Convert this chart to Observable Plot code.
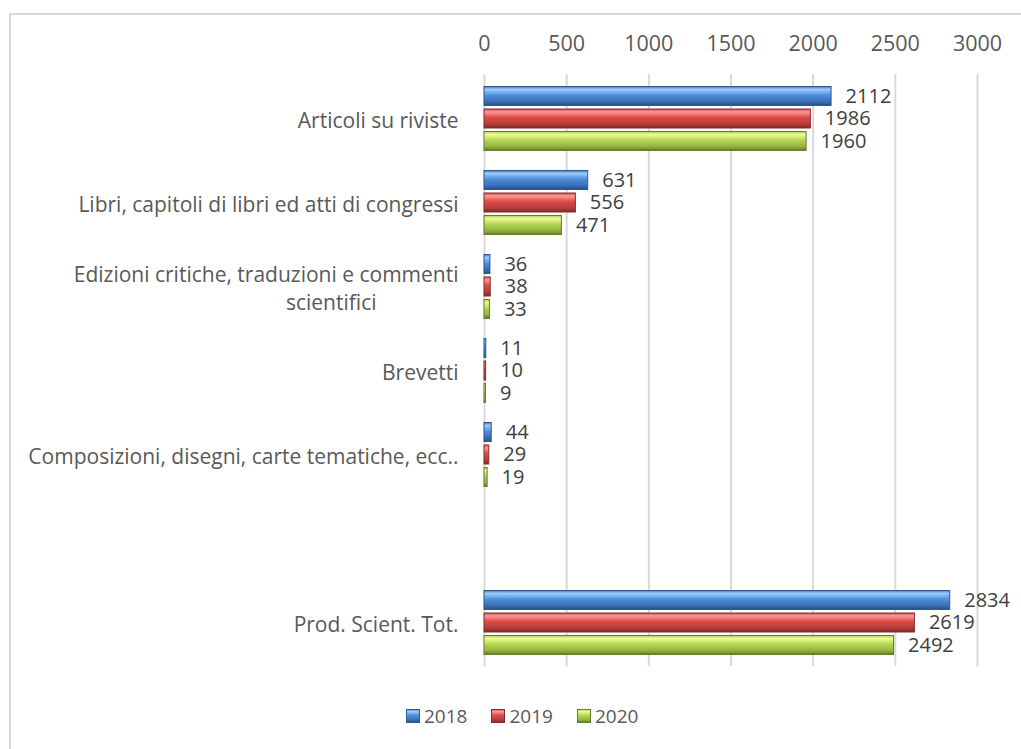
<!DOCTYPE html>
<html><head><meta charset="utf-8">
<script src="https://cdn.jsdelivr.net/npm/d3@7"></script>
<script src="https://cdn.jsdelivr.net/npm/@observablehq/plot@0.6"></script>
<style>
body{margin:0;background:#fff;font-family:"Open Sans",sans-serif;width:1021px;height:749px;overflow:hidden;position:relative}
#frame{position:absolute;left:9px;top:13px;width:1040px;height:780px;border:2px solid #d9d9d9;box-sizing:border-box}
#chart{position:absolute;left:0;top:0}
#legend{position:absolute;top:703px;left:406px;display:flex;align-items:center;font-size:19px;color:#595959}
#legend .item{display:flex;align-items:center;margin-right:24px}
</style></head>
<body>
<div id="frame"></div>
<div id="chart"></div>
<div id="legend"></div>
<script>
const categories = [
  "Articoli su riviste",
  "Libri, capitoli di libri ed atti di congressi",
  "Edizioni critiche, traduzioni e commenti scientifici",
  "Brevetti",
  "Composizioni, disegni, carte tematiche, ecc..",
  " ",
  "Prod. Scient. Tot."
];
const years = ["2018", "2019", "2020"];
const values2018 = [2112, 631, 36, 11, 44, null, 2834];
const values2019 = [1986, 556, 38, 10, 29, null, 2619];
const values2020 = [1960, 471, 33, 9, 19, null, 2492];
const xTicks = [0, 500, 1000, 1500, 2000, 2500, 3000];

const seriesValues = [values2018, values2019, values2020];
const seriesData = seriesValues.map((vals, s) =>
  categories.map((c, i) => ({category: c, value: vals[i], year: years[s]})).filter(d => d.value != null)
);
const gradIds = ["gBlue", "gRed", "gGreen"];
const strokes = ["#2d5a92", "#8a2c2a", "#627d2c"];
const offsets = [-22.5, 0, 22.5];

const labelFmt = c => c === "Edizioni critiche, traduzioni e commenti scientifici"
  ? "Edizioni critiche, traduzioni e commenti\nscientifici" : c;

const marks = [
  Plot.gridX(xTicks, {stroke: "#d9d9d9", strokeOpacity: 1, strokeWidth: 2}),
  Plot.axisX(xTicks, {anchor: "top", tickSize: 0, tickPadding: 24, label: null, fontSize: 21.5, fill: "#595959", tickFormat: d => String(d)}),
  Plot.axisY({tickSize: 0, tickPadding: 26, label: null, fontSize: 21, fill: "#595959", tickFormat: labelFmt, lineHeight: 1.35})
];
seriesData.forEach((data, s) => {
  marks.push(Plot.barX(data, {
    x: "value", y: "category", dy: offsets[s],
    fill: `url(#${gradIds[s]})`, stroke: strokes[s], strokeWidth: 1
  }));
  marks.push(Plot.text(data, {
    x: "value", y: "category", dy: offsets[s], dx: 14, text: d => String(d.value),
    textAnchor: "start", fontSize: 20, fill: "#404040"
  }));
});

const chart = Plot.plot({
  width: 1021,
  height: 690,
  marginLeft: 484,
  marginRight: 44,
  marginTop: 74,
  marginBottom: 24,
  style: {fontFamily: "'Open Sans', sans-serif", background: "transparent"},
  x: {domain: [0, 3000], axis: null},
  y: {domain: categories, padding: 0.775, paddingOuter: 0.4, align: 0.5, axis: null},
  marks
});

// gradients for bevelled bar look
const defs = `
<defs>
<linearGradient id="gBlue" x1="0" y1="0" x2="0" y2="1">
 <stop offset="0" stop-color="#3f78c2"/><stop offset="0.15" stop-color="#9ccdfa"/>
 <stop offset="0.45" stop-color="#4e8fdc"/><stop offset="0.8" stop-color="#3a6eb5"/>
 <stop offset="1" stop-color="#264d85"/></linearGradient>
<linearGradient id="gRed" x1="0" y1="0" x2="0" y2="1">
 <stop offset="0" stop-color="#c84a47"/><stop offset="0.15" stop-color="#ff9a96"/>
 <stop offset="0.45" stop-color="#de4a46"/><stop offset="0.8" stop-color="#b33d3a"/>
 <stop offset="1" stop-color="#7d2826"/></linearGradient>
<linearGradient id="gGreen" x1="0" y1="0" x2="0" y2="1">
 <stop offset="0" stop-color="#a8c855"/><stop offset="0.15" stop-color="#eeff96"/>
 <stop offset="0.45" stop-color="#b7d656"/><stop offset="0.8" stop-color="#93b33f"/>
 <stop offset="1" stop-color="#5f7a27"/></linearGradient>
</defs>`;
chart.insertAdjacentHTML("afterbegin", defs);
document.getElementById("chart").appendChild(chart);

// Excel centres the wrapped second line of a category label
chart.querySelectorAll("tspan").forEach(t => {
  if (t.textContent === "scientifici") t.setAttribute("dx", "-82");
});

const legend = document.getElementById("legend");
years.forEach((y, i) => {
  const item = document.createElement("div");
  item.className = "item";
  const sw = document.createElementNS("http://www.w3.org/2000/svg", "svg");
  sw.setAttribute("width", 14); sw.setAttribute("height", 14);
  sw.style.marginRight = "4px";
  sw.innerHTML = `<rect x="0.5" y="0.5" width="13" height="13" fill="url(#${gradIds[i]})" stroke="${strokes[i]}"/>`;
  item.appendChild(sw);
  const t = document.createElement("span");
  t.textContent = y;
  item.appendChild(t);
  legend.appendChild(item);
});
</script>
</body></html>
